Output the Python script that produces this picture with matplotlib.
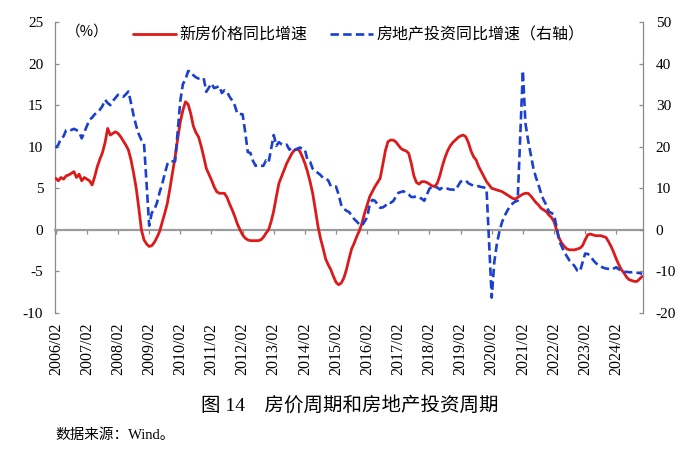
import numpy as np
import matplotlib
matplotlib.use("Agg")
import matplotlib.pyplot as plt

# Monthly data, 2006/02 .. 2024/12
start_year, start_month = 2006, 2
price_yoy = [
    # 2006 Feb-Dec
    6.2, 5.9, 6.3, 6.1, 6.5, 6.6, 6.8, 7.0, 6.3, 6.7, 5.9,
    # 2007
    6.3, 6.1, 5.9, 5.4, 6.4, 7.6, 8.5, 9.3, 10.5, 12.2, 11.4, 11.6,
    # 2008
    11.8, 11.6, 11.2, 10.7, 10.2, 9.6, 8.4, 6.8, 5.0, 2.6, 0.0, -1.2,
    # 2009
    -1.7, -2.0, -1.9, -1.5, -0.9, -0.2, 0.9, 2.0, 3.2, 5.0, 6.9, 8.8,
    # 2010
    11.0, 13.0, 14.4, 15.4, 15.1, 14.0, 12.5, 11.7, 11.2, 10.1, 8.8, 7.4,
    # 2011
    6.7, 6.0, 5.2, 4.6, 4.4, 4.4, 4.4, 3.9, 3.1, 2.4, 1.6, 0.7,
    # 2012
    0.0, -0.6, -1.0, -1.2, -1.3, -1.3, -1.3, -1.3, -1.2, -0.9, -0.4, 0.0,
    # 2013
    1.0, 2.3, 4.0, 5.6, 6.4, 7.2, 8.0, 8.6, 9.2, 9.6, 9.7, 9.5,
    # 2014
    8.8, 8.0, 7.0, 5.8, 4.4, 2.5, 0.5, -1.0, -2.2, -3.5, -4.2, -4.8,
    # 2015
    -5.6, -6.3, -6.6, -6.4, -5.8, -4.8, -3.5, -2.3, -1.6, -0.8, -0.1, 0.8,
    # 2016
    2.0, 3.0, 4.0, 4.6, 5.2, 5.7, 6.2, 7.8, 9.5, 10.6, 10.8, 10.8,
    # 2017
    10.6, 10.2, 9.8, 9.6, 9.5, 9.2, 8.0, 6.5, 5.7, 5.5, 5.8, 5.8,
    # 2018
    5.7, 5.5, 5.3, 5.2, 5.6, 6.5, 7.7, 8.7, 9.5, 10.1, 10.5, 10.8,
    # 2019
    11.1, 11.3, 11.4, 11.2, 10.5, 9.5, 8.8, 8.4, 7.6, 7.0, 6.4, 5.8,
    # 2020
    5.4, 5.0, 4.9, 4.8, 4.7, 4.6, 4.4, 4.2, 4.0, 3.8, 3.7, 3.9,
    # 2021
    4.1, 4.3, 4.4, 4.4, 4.1, 3.7, 3.3, 3.0, 2.6, 2.4, 2.2, 1.8,
    # 2022
    1.5, 1.0, 0.0, -1.0, -1.6, -2.0, -2.3, -2.4, -2.4, -2.4, -2.3, -2.2,
    # 2023
    -1.9, -1.2, -0.6, -0.5, -0.6, -0.7, -0.7, -0.7, -0.8, -0.9, -1.4, -2.0,
    # 2024
    -2.7, -3.5, -4.2, -4.8, -5.2, -5.7, -6.0, -6.1, -6.2, -6.2, -5.9, -5.6,
]

nan = float("nan")
invest_yoy = [
    # 2006 Feb-Dec
    19.7, 20.5, 22.0, 22.5, 24.0, 24.2, 24.0, 24.3, 24.0, 23.5, 22.0,
    # 2007
    nan, 25.0, 26.5, 27.0, 27.8, 28.2, 28.9, 29.8, 31.3, 30.5, 30.0, 31.0,
    # 2008
    nan, 32.5, 32.2, 32.0, 32.6, 33.3, 30.5, 27.5, 25.0, 23.0, 21.6, 20.9,
    # 2009
    nan, 1.0, 4.1, 4.9, 6.5, 9.0, 11.0, 13.5, 15.8, 16.5, 16.5, 16.5,
    # 2010
    nan, 31.1, 35.1, 36.2, 38.2, 38.1, 37.2, 36.7, 36.4, 36.5, 36.5, 33.2,
    # 2011
    nan, 35.2, 34.1, 34.3, 34.6, 32.9, 33.6, 33.2, 32.0, 31.1, 29.9, 27.9,
    # 2012
    nan, 27.8, 23.5, 18.7, 18.5, 16.6, 15.4, 15.6, 15.4, 15.4, 16.7, 16.2,
    # 2013
    nan, 22.8, 20.2, 21.1, 20.6, 20.3, 20.5, 19.3, 19.7, 19.2, 19.5, 19.8,
    # 2014
    nan, 19.3, 16.8, 16.4, 14.7, 14.1, 13.7, 13.2, 12.5, 12.4, 11.9, 10.5,
    # 2015
    nan, 10.4, 8.5, 6.0, 5.1, 4.6, 4.3, 3.5, 2.6, 2.0, 1.3, 1.0,
    # 2016
    nan, 3.0, 6.2, 7.2, 7.0, 6.1, 5.3, 5.4, 5.8, 6.6, 6.5, 6.9,
    # 2017
    nan, 8.9, 9.1, 9.3, 8.8, 8.5, 7.9, 7.9, 8.1, 7.8, 7.5, 7.0,
    # 2018
    nan, 9.9, 10.4, 10.3, 10.2, 9.7, 10.2, 10.1, 9.9, 9.7, 9.7, 9.5,
    # 2019
    nan, 11.6, 11.8, 11.9, 11.2, 10.9, 10.6, 10.5, 10.5, 10.3, 10.2, 9.9,
    # 2020
    nan, -16.3, -7.7, -3.3, -0.3, 1.9, 3.4, 4.6, 5.6, 6.3, 6.8, 7.0,
    # 2021
    nan, 38.3, 25.6, 21.6, 18.3, 15.0, 12.7, 10.9, 8.8, 7.2, 6.0, 4.4,
    # 2022
    nan, 3.7, 0.7, -2.7, -4.0, -5.4, -6.4, -7.4, -8.0, -8.8, -9.8, -10.0,
    # 2023
    nan, -5.7, -5.8, -6.2, -7.2, -7.9, -8.5, -8.8, -9.1, -9.3, -9.4, -9.6,
    # 2024
    nan, -9.0, -9.5, -9.8, -10.1, -10.1, -10.2, -10.2, -10.1, -10.3, -10.4, -10.6,
]

n = len(price_yoy)
months = []
y, m = start_year, start_month
for _ in range(n):
    months.append(f"{y}/{m:02d}")
    m += 1
    if m > 12:
        m = 1
        y += 1

tick_idx = [i for i, s in enumerate(months) if s.endswith("/02")]
tick_labels = [months[i] for i in tick_idx]

label_price = "新房价格同比增速"
label_invest = "房地产投资同比增速（右轴）"
unit_text = "（%）"
caption = "图 14　房价周期和房地产投资周期"
source = "数据来源：Wind。"

left_ticks = [-10, -5, 0, 5, 10, 15, 20, 25]
right_ticks = [-20, -10, 0, 10, 20, 30, 40, 50]

RED = "#DC1A1A"
BLUE = "#1B3FCF"
SPINE = "#8a8a8a"
FONT = ["Liberation Serif", "Noto Sans CJK SC"]
CJK = ["Noto Sans CJK SC", "DejaVu Sans"]

plt.rcParams["font.family"] = FONT

fig = plt.figure(figsize=(7.0, 4.66), dpi=100)
ax = fig.add_axes([55 / 700, 1 - 313 / 466, 588 / 700, 291 / 466])
ax2 = ax.twinx()

x = np.arange(n)
pv = np.array(price_yoy)
iv = np.array(invest_yoy)
ok = ~np.isnan(iv)

l1, = ax.plot(x, pv, color=RED, lw=2.0, solid_capstyle="round", zorder=3)
l2, = ax2.plot(x[ok], iv[ok], color=BLUE, lw=1.9, linestyle=(0, (3.2, 1.6)), zorder=3)

ax.set_xlim(-0.3, n - 1 + 0.3)
ax.set_ylim(-10, 25)
ax2.set_ylim(-20, 50)
ax.set_yticks(left_ticks)
ax2.set_yticks(right_ticks)
ax.set_yticklabels([str(v) for v in left_ticks])
ax2.set_yticklabels([str(v) for v in right_ticks])

ax.set_xticks(tick_idx)
ax.set_xticklabels(tick_labels)

for s in ["top", "right"]:
    ax.spines[s].set_visible(False)
for s in ["top", "left", "bottom"]:
    ax2.spines[s].set_visible(False)
ax.spines["bottom"].set_position(("data", 0))
ax.spines["bottom"].set_color("#9c9c9c")
ax.spines["bottom"].set_linewidth(1.6)
ax.spines["left"].set_color(SPINE)
ax.spines["left"].set_linewidth(0.9)
ax2.spines["right"].set_color(SPINE)
ax2.spines["right"].set_linewidth(0.9)

ax.tick_params(axis="x", direction="out", length=3, width=0.9, color="#8a8a8a",
               pad=64, labelsize=11.5, labelcolor="black", labelrotation=90)
ax.tick_params(axis="y", direction="in", length=3, width=0.9, color=SPINE,
               pad=8.5, labelsize=11)
ax2.tick_params(axis="y", direction="in", length=3, width=0.9, color=SPINE,
                pad=9.2, labelsize=11)
ax2.tick_params(axis="x", bottom=False, labelbottom=False)

leg = fig.legend([l1, l2], [label_price, label_invest], loc="center left",
                 bbox_to_anchor=(133 / 700, 1 - 35 / 466), ncol=2, frameon=False,
                 borderaxespad=0, borderpad=0, handlelength=2.7, handletextpad=0.2,
                 columnspacing=1.4, prop={"family": CJK, "size": 11.5})

fig.text(66 / 700, 1 - 32 / 466, unit_text, family=CJK, fontsize=10.5,
         ha="left", va="center")
fig.text(350 / 700, 1 - 405 / 466, caption, family=FONT, fontsize=14,
         ha="center", va="center")
fig.text(55 / 700, 1 - 435 / 466, source, family=FONT, fontsize=10.5,
         ha="left", va="center")

fig.savefig("out.png", dpi=100)
